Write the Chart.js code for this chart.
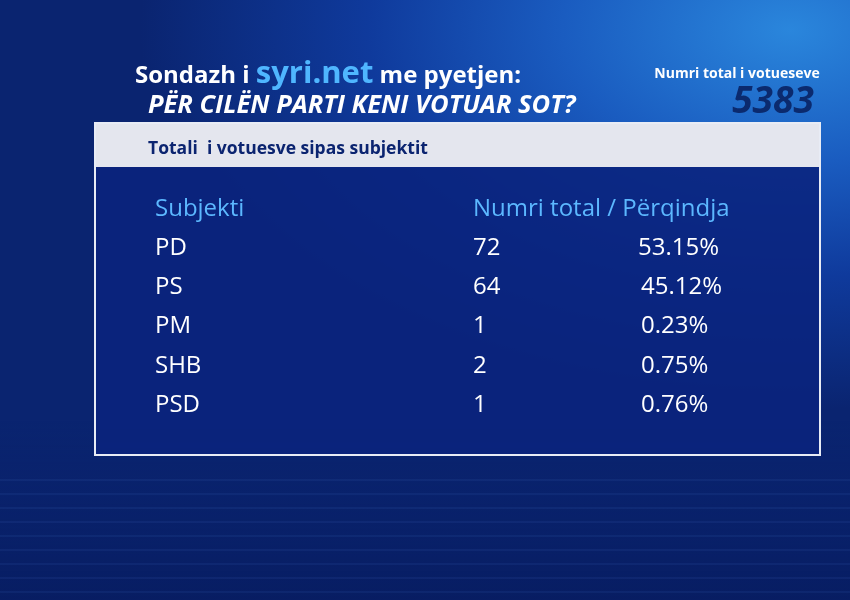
<!DOCTYPE html>
<html><head><meta charset="utf-8">
<script src="https://cdn.jsdelivr.net/npm/chart.js@4/dist/chart.umd.min.js"></script>
<style>
html,body{margin:0;padding:0;width:850px;height:600px;overflow:hidden;
background:radial-gradient(ellipse 650px 380px at 790px 30px,#2a86dc 0%,#1a5cc0 35%,#0f3a9c 65%,#0a2470 100%);}
#wrap{position:absolute;left:0;top:0;width:850px;height:600px}
</style></head><body>
<div id="wrap"><canvas id="c" width="850" height="600"></canvas></div>
<script>
const subjects = ["PD","PS","PM","SHB","PSD"];
const totals = [72,64,1,2,1];
const percents = ["53.15%","45.12%","0.23%","0.75%","0.76%"];
const totalVoters = "5383";
const F = '"Open Sans", "Noto Sans", sans-serif';

const tablePlugin = {
  id:'tbl',
  beforeDatasetsDraw(chart){
    const ctx = chart.ctx;
    ctx.save();
    const g = ctx.createLinearGradient(0,420,0,600);
    g.addColorStop(0,'rgba(8,30,100,0)');
    g.addColorStop(1,'rgba(6,25,90,0.6)');
    ctx.fillStyle = g; ctx.fillRect(0,420,850,180);
    ctx.strokeStyle='rgba(90,140,230,0.18)'; ctx.lineWidth=1;
    for(let y=480;y<600;y+=14){ctx.beginPath();ctx.moveTo(0,y);ctx.lineTo(850,y);ctx.stroke();}
    // panel
    ctx.fillStyle = 'rgba(10,35,125,0.88)';
    ctx.fillRect(95,123,725,332);
    ctx.fillStyle = '#e4e6ee';
    ctx.fillRect(96,124,723,43);
    ctx.strokeStyle = '#e8ecf5'; ctx.lineWidth = 2;
    ctx.strokeRect(95,123,725,332);
    ctx.textBaseline = 'middle';
    ctx.fillStyle = '#0b2470';
    ctx.font = 'bold 17.5px '+F;
    ctx.fillText('Totali  i votuesve sipas subjektit',148,149);
    ctx.textBaseline = 'alphabetic';
    ctx.fillStyle = '#fff';
    ctx.font = 'bold 24px '+F;
    let x = 135;
    ctx.fillText('Sondazh i ',x,83); x += ctx.measureText('Sondazh i ').width;
    ctx.fillStyle = '#4fb6ff'; ctx.font = 'bold 31px '+F;
    ctx.fillText('syri.net',x,83); x += ctx.measureText('syri.net').width;
    ctx.fillStyle = '#fff'; ctx.font = 'bold 24px '+F;
    ctx.fillText(' me pyetjen:',x,83);
    ctx.font = 'italic bold 25.5px '+F;
    ctx.fillText('PËR CILËN PARTI KENI VOTUAR SOT?',148,113);
    ctx.textAlign = 'center';
    ctx.font = 'bold 14px '+F;
    ctx.fillText('Numri total i votueseve',737,78);
    ctx.fillStyle = '#0b2a6e';
    ctx.font = 'italic bold 37px '+F;
    ctx.fillText(totalVoters,773,113);
    ctx.textAlign = 'left';
    const ys = chart.scales.y;
    ctx.textBaseline = 'middle';
    ctx.font = '24px '+F;
    ctx.fillStyle = '#5cb8ff';
    const hy = ys.getPixelForValue(0) - 39;
    ctx.fillText('Subjekti',155,hy);
    ctx.fillText('Numri total / Përqindja',473,hy);
    ctx.fillStyle = '#fff';
    subjects.forEach((s,i)=>{
      const y = ys.getPixelForValue(i);
      ctx.fillText(s,155,y);
      ctx.fillText(String(totals[i]),473,y);
      ctx.fillText(percents[i],i===0?638:641,y);
    });
    ctx.restore();
  }
};

new Chart(document.getElementById('c'),{
  type:'bar',
  data:{labels:subjects,datasets:[{data:totals,backgroundColor:'rgba(0,0,0,0)',borderWidth:0}]},
  options:{
    indexAxis:'y',responsive:false,animation:false,
    layout:{padding:{top:228,bottom:175,left:0,right:0}},
    plugins:{legend:{display:false},tooltip:{enabled:false}},
    scales:{
      y:{type:'category',display:false,offset:true},
      x:{type:'linear',display:false,min:0,max:100}
    }
  },
  plugins:[tablePlugin]
});
</script>
</body></html>
